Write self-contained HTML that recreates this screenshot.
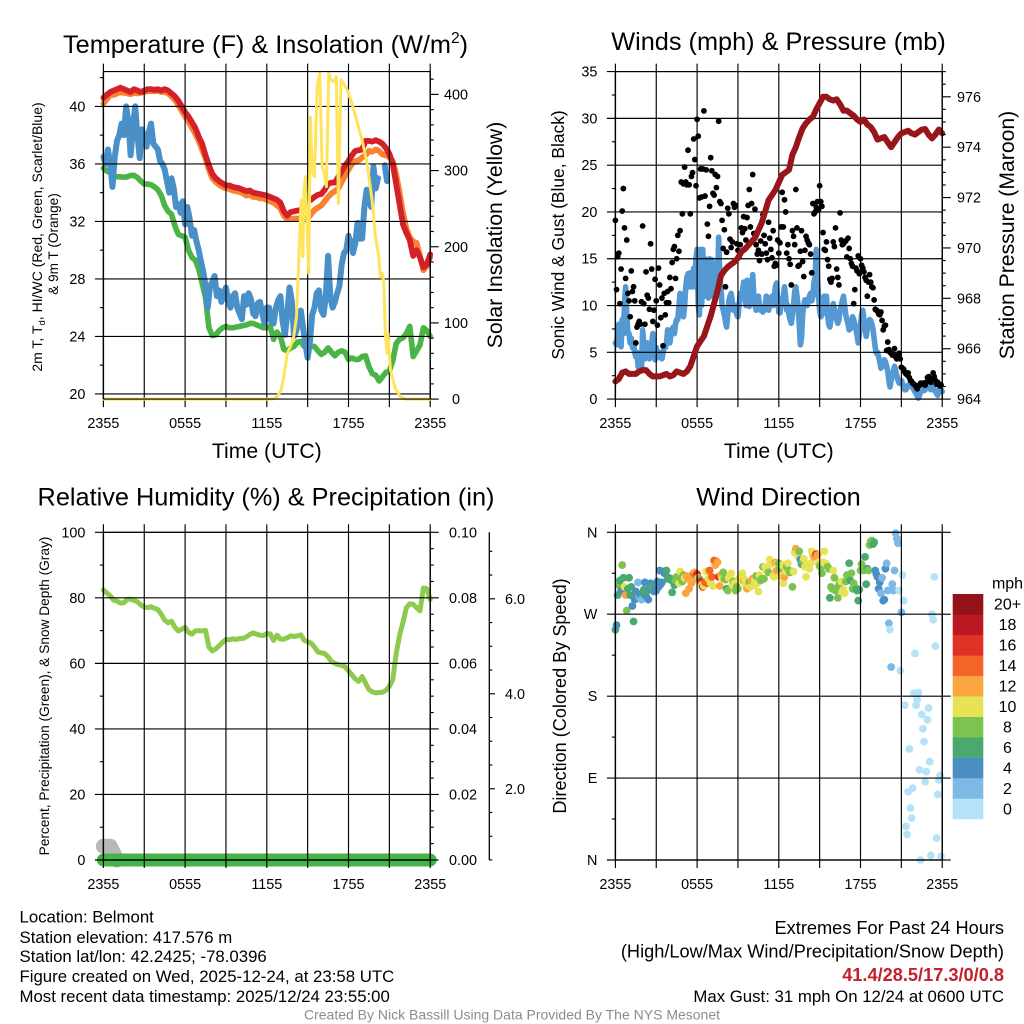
<!DOCTYPE html>
<html lang="en">
<head>
<meta charset="utf-8">
<title>Belmont Station Meteogram</title>
<style>
html,body{margin:0;padding:0;background:#fff;}
svg{display:block;font-family:"Liberation Sans",Arial,sans-serif;fill:#000;}
</style>
</head>
<body>
<svg id="chart" xmlns="http://www.w3.org/2000/svg" width="1024" height="1024" viewBox="0 0 1024 1024">
<rect x="0" y="0" width="1024" height="1024" fill="#fff"/>
<g id="p1"></g>
<g id="p2"></g>
<g id="p3"></g>
<g id="p4"></g>
<g id="cb"></g>

<text x="63" y="53" font-size="25.3">Temperature (F) &amp; Insolation (W/m<tspan font-size="15.5" dy="-10">2</tspan><tspan dy="10">)</tspan></text>
<text x="778.5" y="50" font-size="25.3" text-anchor="middle">Winds (mph) &amp; Pressure (mb)</text>
<text x="266" y="505.5" font-size="25.3" text-anchor="middle">Relative Humidity (%) &amp; Precipitation (in)</text>
<text x="778.5" y="505.5" font-size="25.3" text-anchor="middle">Wind Direction</text>

<text x="266.8" y="458" font-size="21.2" text-anchor="middle">Time (UTC)</text>
<text x="778.8" y="458" font-size="21.2" text-anchor="middle">Time (UTC)</text>

<text transform="translate(42,237) rotate(-90)" font-size="14" text-anchor="middle">2m T, T<tspan font-size="9.5" dy="3">d</tspan><tspan dy="-3">, HI/WC (Red, Green, Scarlet/Blue)</tspan></text>
<text transform="translate(58,244) rotate(-90)" font-size="13.6" text-anchor="middle">&amp; 9m T (Orange)</text>
<text transform="translate(502,235) rotate(-90)" font-size="21.2" text-anchor="middle">Solar Insolation (Yellow)</text>
<text transform="translate(564,235) rotate(-90)" font-size="17.4" text-anchor="middle">Sonic Wind &amp; Gust (Blue, Black)</text>
<text transform="translate(1014,235) rotate(-90)" font-size="21.2" text-anchor="middle">Station Pressure (Maroon)</text>
<text transform="translate(49,696) rotate(-90)" font-size="13.7" text-anchor="middle">Percent, Precipitation (Green), &amp; Snow Depth (Gray)</text>
<text transform="translate(566,696) rotate(-90)" font-size="18.1" text-anchor="middle">Direction (Colored By Speed)</text>

<g font-size="16.8">
<text x="19.5" y="922.5">Location: Belmont</text>
<text x="19.5" y="943">Station elevation: 417.576 m</text>
<text x="19.5" y="962">Station lat/lon: 42.2425; -78.0396</text>
<text x="19.5" y="982">Figure created on Wed, 2025-12-24, at 23:58 UTC</text>
<text x="19.5" y="1002">Most recent data timestamp: 2025/12/24 23:55:00</text>
</g>
<g font-size="18.2" text-anchor="end">
<text x="1004" y="934">Extremes For Past 24 Hours</text>
<text x="1004" y="957.5">(High/Low/Max Wind/Precipitation/Snow Depth)</text>
<text x="1004" y="981" font-weight="bold" fill="#c5202b">41.4/28.5/17.3/0/0.8</text>
<text x="1004" y="1002" font-size="16.8">Max Gust: 31 mph On 12/24 at 0600 UTC</text>
</g>
<text x="512" y="1019.5" font-size="14" text-anchor="middle" fill="#8c8c8c">Created By Nick Bassill Using Data Provided By The NYS Mesonet</text>
</svg>

<script>
// ---- Shared axis labels ----
const timeLabels = ['2355','0555','1155','1755','2355'];
const dirLabels = ['N','E','S','W','N'];

// ---- Temperature panel data (°F every 15 min) ----
const airTemp = [40.6,40.8,41.0,41.1,41.2,41.3,41.2,41.1,41.0,41.2,41.1,41.0,41.1,41.2,41.2,41.15,41.2,41.1,41.2,41.1,40.9,40.7,40.4,40.0,39.6,39.3,38.9,38.5,37.9,37.4,36.6,35.9,35.3,35,34.8,34.65,34.5,34.5,34.4,34.35,34.3,34.2,34.1,34.15,34,33.95,33.9,33.85,33.8,33.7,33.6,33.5,33.3,32.7,32.4,32.65,32.7,32.75,32.8,33.1,33.4,33.5,33.7,33.85,33.9,34.2,34.6,34.7,34.7,35.1,35.5,35.9,36.2,36.6,36.9,36.95,37,37.6,37.6,37.55,37.65,37.55,37.4,37.1,36.7,36,34.6,33.2,31.8,31.2,30.7,29.6,30,29.5,28.8,29,29.7];
const temp9m = [40.2,40.5,40.8,40.8,40.9,41,40.95,40.9,40.85,40.95,40.9,40.95,41,41.05,41.1,41.05,41.1,41,41,40.9,40.7,40.45,40.1,39.7,39.3,38.95,38.5,38.1,37.6,37,36.4,35.6,35,34.75,34.55,34.4,34.3,34.25,34.15,34.1,34.05,33.95,33.8,33.85,33.7,33.7,33.6,33.6,33.5,33.4,33.3,33.1,32.9,32.4,32.15,32.15,32.2,32.2,32.2,32.2,32.2,32.5,32.8,32.95,33.1,33.4,33.7,33.95,34.1,34.3,34.75,35.2,35.6,36,36.2,36.25,36.45,36.6,36.9,36.85,37,36.9,36.65,36.6,36.5,36.2,35.3,34,32.6,31.5,30.9,30.6,30.5,29.6,28.6,28.9,29.5];
const dewPoint = [35.7,35.5,35.4,35.2,35.1,35.1,35.07,35.1,35.2,35.2,35.05,34.8,34.6,34.6,34.55,34.4,34.2,33.8,33.1,32.7,32.5,31.7,31.1,31,30.9,30,29.5,29.3,28.7,27.7,26.7,24.6,24.05,24.1,24.4,24.6,24.7,24.6,24.6,24.65,24.7,24.75,24.8,24.9,24.9,24.8,24.7,24.6,24.6,24.7,23.8,24.3,24,23.1,23,23.2,23.3,23.6,23.65,23.3,23.3,23.3,23.3,23,22.75,22.9,23.2,22.9,22.65,22.9,23,22.9,22.4,22.5,22.4,22.4,22.6,22.65,21.9,21.4,21.3,20.9,21.2,21.5,21.6,22.3,23.5,23.8,23.9,24.2,24.7,22.6,23,23.4,24.6,24.4,24];
// Wind chill every 10 min (null = gap in the record)
const windChill = [36.5,36.0,37.0,36.0,34.4,36.5,37.6,38.0,38.8,38.0,40.0,39,36.6,38.5,40.0,38,36.4,38.4,37.7,37.2,38.2,38.8,37.4,37.2,37.0,36.2,36,35.6,34.8,34,35,34.3,33,33.2,32.6,33.4,31.8,33,32.2,31,31.4,30.6,30,29.2,28.5,27.5,26,27.5,27.8,28.2,26.8,27.2,26.4,27,27.4,26.4,26,26.8,27,26,25.6,25.2,26.8,26.2,27,26.6,25.6,25.4,26.3,26.4,25.6,24.9,26,26,25,24.9,26,26.5,26.8,25,24.1,25.5,27.4,26.5,24,24.4,25,25.8,24.6,23.5,22.5,23.6,25.5,26,27,27.2,25.8,25.5,26.8,29.6,26.7,26,26.4,27,27.5,29,29.8,30,31,30.5,29.8,30.5,31.9,30.8,30.8,33,34.2,33.4,33,35.8,34.3,35,null,null,35.9,34.8];
const solarHours = [0,12.4,12.76,13.05,13.25,13.5,13.74,13.98,14.18,14.35,14.52,14.65,14.72,14.84,14.96,15.08,15.2,15.33,15.5,15.7,15.89,16.06,16.18,16.38,16.55,16.72,16.92,17.11,17.26,17.45,17.65,17.9,18.26,18.63,19,19.37,19.73,19.98,20.22,20.34,20.47,20.59,20.71,20.83,20.9,21.08,21.44,21.81,22.2,24];
const solarValues = [0,0,3,12,29,60,69,82,108,182,261,187,270,292,226,165,370,300,292,410,428,305,300,279,428,419,417,423,257,419,414,406,388,364,340,309,261,213,187,160,165,154,86,60,86,38,14,3,0,0];
const tempTicks = [20,24,28,32,36,40];
const solarTicks = [0,100,200,300,400];

// ---- Winds panel data ----
// Sustained wind (mph) every 5 min; also colours the direction dots
const windSpeed = [6,5.8,7,8,6,5.6,8.5,7,10,12,9,7,
7,6,6.5,5.5,6,5,4.5,5,3.5,3.2,4,3.1,
7.4,6,4.3,5,6,4.5,4.3,5.5,6,7,5,4.2,
5.5,4.8,4.5,5,4.4,4.3,5,5.5,5.5,6,7.4,6.5,
6,7,7.5,7.7,7,8,8.5,8.5,10,11.3,9.5,9,
8.8,10,12,13,13.4,12,13.5,12,12,14,12,15,
16,10,9,16,10,16,11,15,11,14,10.8,15,
11,14.9,11.5,14.5,12,14,12,17.3,13,12,10,9.5,
9,8.3,7.7,9,10.5,11,11.3,10.5,9.5,10,9.5,9,
8.8,10,11.3,11,11.5,12.5,11,10,12.7,11,9.9,10.5,
12,13.3,11,10,9.5,10,11,10,9.5,9.8,9.3,9.5,
10,11,10.5,9.5,10,10.5,11,10,10.5,12,12.4,10.5,
9.3,9.2,10,10.5,11,12,11,9.5,10,9,8.5,8.1,
9,10,11.5,12,11,10,8,5.8,6.5,9,10,10.6,
10.6,10,10.5,11,11.3,10.5,11,12.5,13,16,13,11,
9.5,8.8,9,10,11,10.5,11,9,8,7.7,8.5,9,
10.2,9.5,9,8.5,8.1,8.5,9.5,10,10.5,11,10,9,
8.5,8,7.4,7.5,8,8.8,8.5,8,7.5,6.8,6,7,
8,9,9.5,8.5,7.5,6.7,7.5,8,8.5,8.4,8,7.5,
6.5,5.5,4.9,5,4.5,4,3.3,3.5,4,4.2,4,3.5,
3,2,1.3,2,2.5,3,3.5,3,2.5,2,1.7,1.8,
2,1.7,1.2,1,1,1.2,1.5,1.4,1.5,1.5,1.2,1,
0.8,0.6,0.3,0.1,0.4,0.8,1.3,1.2,0.9,1,1.3,1.5,
1.5,1.2,1,1.1,1.4,1,0.8,0.6,0.4,0.8,1.2,1,0.8];
// Wind gust (mph) every 5 min
const windGust = [19.1,11.7,15.2,15.6,10.2,13.9,20.1,22.5,18.3,12.9,17,11.3,
10.5,8.8,13.7,11.5,12,10.5,6,7.7,8,8.3,8,10.4,
18.5,10.2,8,13.6,11.1,10.8,9.6,16.6,13.9,8.3,9.5,12.8,
10.5,7.9,14,12.2,8.7,10.8,5.7,11.3,9,10.3,11.5,10.3,
13,11.8,14.6,16,16.3,12.9,15,17.5,15.8,18,23.2,19.8,
23,24.8,23.2,22.9,26.6,22.9,19.8,23.8,24.2,27.8,25.6,22.8,
29.9,28.1,21.5,24.6,21.6,24.6,30.8,21.7,24.5,18.7,17.4,20.6,
25.8,24.4,22,21.8,24,22.6,23.8,29.7,21.1,20.9,19.1,16.1,
18.1,12,15.7,20.4,19.8,17.1,16.2,16.8,20.9,20.5,20.7,16.6,
15.9,15.2,16.5,18.3,17.8,19.5,18.2,17,19.4,20.7,22.4,18.4,
20.9,24,17.7,20.3,16.5,15.5,15.9,14.8,16.9,15.5,19.7,17.5,
16.6,15.6,14.9,18.9,17.2,16,15.1,18,14.2,14.5,14.3,17,
15.6,16.7,18.4,22.1,18.4,21.3,20,15.6,16.5,15,14.4,12.2,
18,17.4,16.5,22.4,18.3,14.2,14.3,15.8,18,14.7,13.1,15.9,
17.4,17,16.7,16.5,15.5,13.5,20.9,19.8,20,20.5,21.1,20.2,
22.8,21.1,20.6,17.8,16,15.9,16.8,14.9,14.2,12.8,12.5,12.9,
16.8,16.3,18.3,13.9,13,12.2,19.9,17,16.5,16.6,16.8,16.9,
15.2,17.2,16.1,15,14.5,14.2,10.2,11.7,14,13.7,15.3,13.4,
15,14.3,14,13.6,13,12.7,11,12.5,13.3,12.5,12,11.9,
10.6,9.6,9.5,9.4,9.1,9,9.3,8.4,7.4,7.8,7.9,5.2,
6.1,5.3,5,4.9,4.7,4.8,5.4,4.5,4.3,4.6,4.9,4.3,
3.4,3.3,3.2,2.9,2.7,2.6,2.8,2.3,2,1.9,1.7,1.6,
1.5,1.3,1.1,1.4,1.5,1.7,1.6,1.7,1.7,1.5,1.8,2.3,
2.4,2,1.8,2.2,2.8,2.4,2,1.6,1.8,1.6,1.4,1.5];
// Station pressure (mb) every 15 min
const pressure = [964.7,964.8,965.05,965.1,965,965,965,965.1,965.15,965.15,965,964.9,964.9,964.9,964.95,965,964.9,964.95,965.1,965.05,965,965.1,965.3,965.7,966.1,966.3,966.5,966.9,967.3,967.8,968.3,968.9,969.1,969.25,969.35,969.45,969.6,969.85,969.95,970.1,970.25,970.4,970.7,971,971.45,971.9,972.1,972.3,972.6,972.9,973,973.1,973.7,974,974.4,974.75,974.95,975.1,975.2,975.5,975.75,976,976,975.9,975.85,975.9,975.7,975.45,975.45,975.35,975.25,975.1,975,975.1,974.9,974.8,974.6,974.3,974.35,974.4,974.2,974,974.2,974.4,974.55,974.6,974.65,974.55,974.5,974.6,974.7,974.72,974.5,974.35,974.5,974.7,974.55];
const windTicks = [0,5,10,15,20,25,30,35];
const pressureTicks = [964,966,968,970,972,974,976];

// ---- Humidity panel data ----
const relHumidity = [82.4,81.5,80.6,79.3,79,78.4,78.5,79.5,79.6,79.2,78.8,77.8,77.2,77,77.3,76.8,76.4,75,73.2,72.4,72.9,71,69.9,70.4,71,69.5,68.9,69.9,70,69.9,70.1,65,63.8,64.4,65.4,66.4,67.3,67.2,67.5,67.3,67.6,67.6,68.1,68.8,69.3,68.9,68.6,68.5,69.1,69,67,68.6,67.4,67.4,67.8,68.4,68.2,68.4,68.7,67,66.6,66.2,65,63.5,63.2,63,62,60.6,60,59.6,59.4,59,57.7,56.5,55.2,54.5,56,54,52,51.3,51,51.1,51.2,51.8,53,55,63,68.5,72.5,77,78.2,78,77,76,83,82.8,79.5];
// Precipitation (in), hourly
const precipitation = [0,0,0,0,0,0,0,0,0,0,0,0,0,0,0,0,0,0,0,0,0,0,0,0,0];
// Snow depth (in) every 15 min, record ends after the first hour
const snowDepth = [0.79,0.79,0.79,0.65,0.5];
const rhTicks = [0,20,40,60,80,100];
const precipTicks = [0,0.02,0.04,0.06,0.08,0.10];
const snowTicks = [2,4,6];

// ---- Wind direction panel data (degrees every 5 min) ----
const windDirection = [253,258,291,302,307,296,324,310,300,291,274,298,
310,291,300,279,262,286,295,293,305,289,291,286,
293,297,305,290,296,286,298,304,300,296,295,298,
296,306,300,318,303,305,317,315,316,318,309,310,
308,309,294,306,302,307,311,307,304,317,309,306,
313,310,293,312,309,298,309,304,307,315,316,313,
314,310,309,306,302,300,301,305,317,304,309,318,
304,311,301,329,324,328,327,311,301,313,309,316,
309,308,298,296,310,313,315,302,306,304,296,300,
298,309,310,307,315,307,308,302,298,302,305,300,
306,309,302,308,312,304,295,313,307,309,322,309,
322,318,320,316,330,325,326,312,311,327,318,326,
326,320,312,324,304,311,317,322,326,318,316,317,
300,317,338,342,337,334,339,330,325,328,331,322,
311,325,322,320,326,339,335,333,335,336,335,326,
323,321,315,327,339,326,325,322,320,288,300,298,
318,310,296,298,288,302,305,306,295,297,293,306,
313,310,326,307,315,298,304,300,297,296,285,297,
318,325,320,318,333,303,320,318,346,350,351,347,
349,318,314,311,298,305,293,310,285,286,320,326,
296,260,253,212,303,296,318,359,353,348,296,208,
272,313,285,170,37,28,75,122,57,46,79,183,
227,170,176,184,99,0,160,144,130,86,97,154,
167,108,5,270,264,311,235,24,72,88,93,4];
const dirTicks = [0,90,180,270,360];
const speedLabels = ['0','2','4','6','8','10','12','14','16','18','20+'];
const speedColors = ['#b5e2f8','#7cb9e5','#4a8ec4','#49a96f','#7dc34f','#e8e257','#faa53f','#f46328','#e03127','#bc1a23','#941318'];

// ---- Geometry & helpers ----
const NS = 'http://www.w3.org/2000/svg';
const LEFT = {x0:103.4, x1:430.2};
const RIGHT = {x0:615.4, x1:942.2};
const TOP = {y0:399.1, y1:71.6};
const BOT = {y0:860, y1:532.3};

function scale(d0, d1, r0, r1){ return v => r0 + (v - d0) * (r1 - r0) / (d1 - d0); }

function addLine(parent, x1, y1, x2, y2, name, width, color){
  const el = document.createElementNS(NS, 'line');
  el.setAttribute('x1', x1); el.setAttribute('y1', y1);
  el.setAttribute('x2', x2); el.setAttribute('y2', y2);
  el.setAttribute('stroke', color || '#000');
  el.setAttribute('stroke-width', width || 1.15);
  
  
  parent.appendChild(el);
  return el;
}
function addText(parent, x, y, str, name, anchor, size){
  const el = document.createElementNS(NS, 'text');
  el.setAttribute('x', x); el.setAttribute('y', y);
  el.setAttribute('font-size', size || 14.4);
  el.setAttribute('text-anchor', anchor || 'middle');
  el.textContent = str;
  
  
  parent.appendChild(el);
  return el;
}
// Series with evenly spaced samples; null values break the line.
function addSeries(parent, values, stepHours, sx, sy, name, color, width){
  const hours = values.map((v, i) => i * stepHours);
  return addXYSeries(parent, hours, values, sx, sy, name, color, width);
}
function addXYSeries(parent, hours, values, sx, sy, name, color, width){
  let d = '', pen = false;
  values.forEach((v, i) => {
    if (v === null) { pen = false; return; }
    d += (pen ? 'L' : 'M') + sx(hours[i]).toFixed(2) + ' ' + sy(v).toFixed(2);
    pen = true;
  });
  const el = document.createElementNS(NS, 'path');
  el.setAttribute('d', d);
  el.setAttribute('fill', 'none');
  el.setAttribute('stroke', color);
  el.setAttribute('stroke-width', width);
  el.setAttribute('stroke-linecap', 'round');
  el.setAttribute('stroke-linejoin', 'round');
  
  
  parent.appendChild(el);
  return el;
}
function addDot(parent, cx, cy, r, color, name){
  const el = document.createElementNS(NS, 'circle');
  el.setAttribute('cx', cx); el.setAttribute('cy', cy); el.setAttribute('r', r);
  el.setAttribute('fill', color);
  
  
  parent.appendChild(el);
  return el;
}
// Vertical grid every 3 hours and labels every 6 hours.
function drawTimeGrid(parent, sx, box){
  for (let k = 0; k <= 8; k++) {
    addLine(parent, sx(k * 3), box.y1 - 8, sx(k * 3), box.y0 + 8, 'time-gridline');
  }
}
function drawTimeLabels(parent, sx, box){
  timeLabels.forEach((lab, k) => addText(parent, sx(k * 6), box.y0 + 29, lab, 'time-tick-label'));
}
// Left axis: gridlines + outward ticks and minor ticks.
function drawLeftAxis(parent, ticks, labels, sy, x0, x1, minorStep, lo, hi){
  ticks.forEach((t, i) => {
    addLine(parent, x0 - 8.5, sy(t), x1, sy(t), 'value-gridline');
    addText(parent, x0 - 18, sy(t) + 5, labels[i], 'left-tick-label', 'end');
  });
  for (let m = lo; m <= hi + 1e-9; m += minorStep) {
    if (!ticks.some(t => Math.abs(t - m) < 1e-6)) addLine(parent, x0 - 3.5, sy(m), x0, sy(m), 'left-minor-tick');
  }
}
function drawRightAxis(parent, ticks, labels, sy, x1, minorStep, lo, hi, labelX, anchor){
  ticks.forEach((t, i) => {
    addLine(parent, x1, sy(t), x1 + 8.5, sy(t), 'right-major-tick');
    addText(parent, labelX, sy(t) + 5, labels[i], 'right-tick-label', anchor);
  });
  for (let m = lo; m <= hi + 1e-9; m += minorStep) {
    if (!ticks.some(t => Math.abs(t - m) < 1e-6)) addLine(parent, x1, sy(m), x1 + 3.5, sy(m), 'right-minor-tick');
  }
}
function drawFrame(parent, xr, box){
  addLine(parent, xr.x0, box.y1, xr.x1, box.y1, 'frame-top');
  addLine(parent, xr.x0, box.y0, xr.x1, box.y0, 'frame-bottom');
  addLine(parent, xr.x0, box.y1, xr.x0, box.y0, 'frame-left', 1.4);
  addLine(parent, xr.x1, box.y1, xr.x1, box.y0, 'frame-right', 1.4);
}

// ---- Panel 1: temperature & insolation ----
(function(){
  const g = document.getElementById('p1');
  const sx = scale(0, 24, LEFT.x0, LEFT.x1);
  const sy = scale(20, 40, 393.9, 106.4);
  const sSolar = scale(0, 400, TOP.y0, 94.4);
  addSeries(g, dewPoint, 0.25, sx, sy, 'dew-point-line', '#4ab546', 5.6);
  addSeries(g, temp9m, 0.25, sx, sy, 'nine-meter-temperature-line', '#f9812f', 5.8);
  addSeries(g, airTemp, 0.25, sx, sy, 'two-meter-temperature-line', '#d42027', 5.8);
  addSeries(g, windChill, 1/6, sx, sy, 'wind-chill-line', '#4a90c8', 6);
  drawTimeGrid(g, sx, TOP);
  drawLeftAxis(g, tempTicks, tempTicks.map(String), sy, LEFT.x0, LEFT.x1, 2, 20, 42);
  addXYSeries(g, solarHours, solarValues, sx, sSolar, 'solar-insolation-line', '#fde45a', 3);
  drawFrame(g, LEFT, TOP);
  drawRightAxis(g, solarTicks, solarTicks.map(String), sSolar, LEFT.x1, 20, 0, 420, 456, 'middle');
  drawTimeLabels(g, sx, TOP);
})();

// ---- Panel 2: wind, gust & pressure ----
(function(){
  const g = document.getElementById('p2');
  const sx = scale(0, 24, RIGHT.x0, RIGHT.x1);
  const sy = scale(0, 35, TOP.y0, TOP.y1);
  const sP = scale(964, 977, TOP.y0, TOP.y1);
  addSeries(g, windSpeed, 1/12, sx, sy, 'sustained-wind-line', '#5499d3', 5.6);
  windGust.forEach((v, i) => {
    addDot(g, sx(i / 12), sy(v), 2.9, '#000', 'wind-gust-point');
  });
  drawTimeGrid(g, sx, TOP);
  drawLeftAxis(g, windTicks, windTicks.map(String), sy, RIGHT.x0, RIGHT.x1, 2.5, 0, 35);
  addSeries(g, pressure, 0.25, sx, sP, 'station-pressure-line', '#98161a', 6);
  drawFrame(g, RIGHT, TOP);
  drawRightAxis(g, pressureTicks, pressureTicks.map(String), sP, RIGHT.x1, 0.5, 964, 977, 957, 'start');
  drawTimeLabels(g, sx, TOP);
})();

// ---- Panel 3: humidity, precipitation & snow ----
(function(){
  const g = document.getElementById('p3');
  const sx = scale(0, 24, LEFT.x0, LEFT.x1);
  const sy = scale(0, 100, BOT.y0, BOT.y1);
  const sPrecip = scale(0, 0.1, BOT.y0, BOT.y1);
  const sSnow = scale(0.5, 7.4, BOT.y0, BOT.y1);
  addSeries(g, relHumidity, 0.25, sx, sy, 'relative-humidity-line', '#8fca4f', 5);
  addSeries(g, snowDepth, 0.25, sx, sSnow, 'snow-depth-line', '#b8b8b8', 15);
  addSeries(g, precipitation, 1, sx, sPrecip, 'precipitation-line', '#45b348', 13);
  drawTimeGrid(g, sx, BOT);
  drawLeftAxis(g, rhTicks, rhTicks.map(String), sy, LEFT.x0, LEFT.x1, 10, 0, 100);
  drawFrame(g, LEFT, BOT);
  drawRightAxis(g, precipTicks, precipTicks.map(v => v.toFixed(2)), sPrecip, LEFT.x1, 0.005, 0, 0.1, 449, 'start');
  drawTimeLabels(g, sx, BOT);
  // Snow depth axis
  const axX = 489.3;
  addLine(g, axX, BOT.y0, axX, BOT.y1, 'snow-axis-line', 1.3);
  for (let v = 0.5; v <= 7.4; v += 0.5) {
    const major = snowTicks.includes(v);
    addLine(g, axX, sSnow(v), axX + (major ? 5.7 : 3), sSnow(v), major ? 'snow-major-tick' : 'snow-minor-tick');
  }
  snowTicks.forEach(v => addText(g, 505, sSnow(v) + 5, v.toFixed(1), 'snow-tick-label', 'start'));
})();

// ---- Panel 4: wind direction ----
(function(){
  const g = document.getElementById('p4');
  const sx = scale(0, 24, RIGHT.x0, RIGHT.x1);
  const sy = scale(0, 360, BOT.y0, BOT.y1);
  windDirection.forEach((v, i) => {
    const bin = Math.min(speedColors.length - 1, Math.floor(windSpeed[i] / 2));
    addDot(g, sx(i / 12), sy(v), 3.9, speedColors[bin], 'wind-direction-point');
  });
  drawTimeGrid(g, sx, BOT);
  drawLeftAxis(g, dirTicks, dirLabels, sy, RIGHT.x0, RIGHT.x1, 45, 0, 360);
  drawFrame(g, RIGHT, BOT);
  dirTicks.forEach(t => addLine(g, RIGHT.x1, sy(t), RIGHT.x1 + 8.5, sy(t), 'right-major-tick'));
  drawTimeLabels(g, sx, BOT);
})();

// ---- Colour bar ----
(function(){
  const g = document.getElementById('cb');
  const top = 594, h = 225 / speedColors.length;
  addText(g, 1007.5, 588.5, 'mph', 'colorbar-title', 'middle', 16);
  speedColors.forEach((c, i) => {
    const row = speedColors.length - 1 - i;
    const r = document.createElementNS(NS, 'rect');
    r.setAttribute('x', 952.7); r.setAttribute('y', top + row * h);
    r.setAttribute('width', 30.6); r.setAttribute('height', h + 0.2);
    r.setAttribute('fill', c);
    
    
    g.appendChild(r);
    addText(g, 1007.5, top + row * h + h / 2 + 5.5, speedLabels[i], 'colorbar-label', 'middle', 16);
  });
})();
</script>
</body>
</html>
